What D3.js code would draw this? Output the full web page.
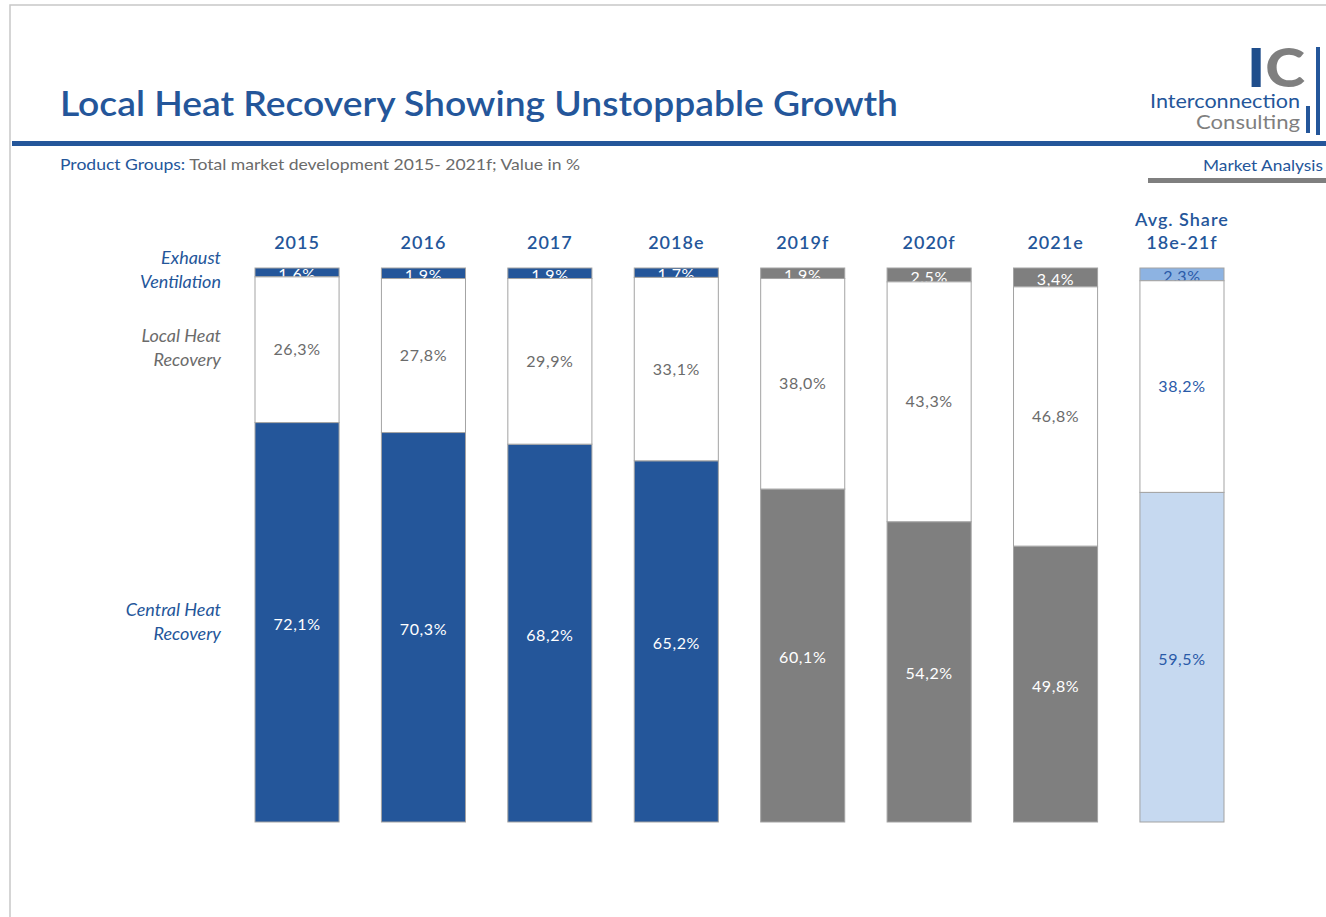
<!DOCTYPE html>
<html>
<head>
<meta charset="utf-8">
<script src="https://cdn.jsdelivr.net/npm/d3@7"></script>
<style>
  body { margin: 0; background: #fff; }
  text { font-family: Lato, "Open Sans", sans-serif; }
</style>
</head>
<body>
<div class="chart"></div>
<script>
// categories and values (shares in %)
var categories = ['2015', '2016', '2017', '2018e', '2019f', '2020f', '2021e', 'avg'];
var exhaust = [1.6, 1.9, 1.9, 1.7, 1.9, 2.5, 3.4, 2.3];
var localHR = [26.3, 27.8, 29.9, 33.1, 38.0, 43.3, 46.8, 38.2];
var centralHR = [72.1, 70.3, 68.2, 65.2, 60.1, 54.2, 49.8, 59.5];

var blue = '#24569a', grey = '#7f7f7f', lightBlue = '#c6d9f0', midBlue = '#8db3e2';
var textGrey = '#6b6b6b';

var svg = d3.select('.chart').append('svg')
  .attr('width', 1326)
  .attr('height', 917);

// frame
svg.append('path')
  .attr('d', 'M10,917 V5 H1326')
  .attr('fill', 'none')
  .attr('stroke', '#c8c8c8')
  .attr('stroke-width', 1.5);

// header
svg.append('text')
  .attr('x', 60).attr('y', 116)
  .attr('textLength', 838)
  .attr('lengthAdjust', 'spacingAndGlyphs')
  .style('font-size', '35px')
  .style('font-weight', 600)
  .style('fill', blue)
  .text('Local Heat Recovery Showing Unstoppable Growth');

svg.append('rect')
  .attr('x', 12).attr('y', 141).attr('width', 1314).attr('height', 5)
  .attr('fill', blue);

let sub = svg.append('text')
  .attr('x', 60).attr('y', 170)
  .attr('textLength', 520)
  .attr('lengthAdjust', 'spacingAndGlyphs')
  .style('font-size', '15px');
sub.append('tspan').style('fill', blue).text('Product Groups: ');
sub.append('tspan').style('fill', textGrey).text('Total market development 2015-  2021f; Value in %');

svg.append('text')
  .attr('x', 1323).attr('y', 171)
  .attr('textLength', 120)
  .attr('lengthAdjust', 'spacingAndGlyphs')
  .style('text-anchor', 'end')
  .style('font-size', '16px')
  .style('fill', blue)
  .text('Market Analysis');

svg.append('rect')
  .attr('x', 1148).attr('y', 178).attr('width', 178).attr('height', 5)
  .attr('fill', grey);

// logo
svg.append('text')
  .attr('x', 1247).attr('y', 87)
  .style('font-size', '54px')
  .style('font-weight', 900)
  .attr('textLength', 58)
  .attr('lengthAdjust', 'spacingAndGlyphs')
  .html('<tspan fill="#1f4e8c">I</tspan><tspan fill="#7f7f7f">C</tspan>');
svg.append('rect').attr('x', 1316).attr('y', 47).attr('width', 4).attr('height', 88).attr('fill', blue);
svg.append('rect').attr('x', 1306).attr('y', 106).attr('width', 4).attr('height', 27).attr('fill', blue);
svg.append('text')
  .attr('x', 1150).attr('y', 108)
  .attr('textLength', 150)
  .attr('lengthAdjust', 'spacingAndGlyphs')
  .style('font-size', '19px')
  .style('fill', blue)
  .text('Interconnection');
svg.append('text')
  .attr('x', 1196).attr('y', 129)
  .attr('textLength', 104)
  .attr('lengthAdjust', 'spacingAndGlyphs')
  .style('font-size', '20px')
  .style('fill', grey)
  .text('Consulting');

// scales
var x = d3.scaleBand()
  .domain(categories)
  .range([255, 1224])
  .paddingInner(0.335);

var y = d3.scaleLinear()
  .domain([0, 100])
  .range([822, 268]);

var pct = d3.formatLocale({ decimal: ',', thousands: '.', grouping: [3], currency: ['', '€'] }).format('.1f');

var rows = categories.map((c, i) => ({ cat: c, central: centralHR[i], local: localHR[i], exhaust: exhaust[i] }));
var stack = d3.stack().keys(['central', 'local', 'exhaust'])(rows);

function kind(cat) {
  if (cat === 'avg') return 'avg';
  return ['2019f', '2020f', '2021e'].indexOf(cat) >= 0 ? 'fc' : 'hist';
}
var fills = {
  central: { hist: blue, fc: grey, avg: lightBlue },
  local: { hist: '#fff', fc: '#fff', avg: '#fff' },
  exhaust: { hist: blue, fc: grey, avg: midBlue }
};
var labelFill = {
  central: { hist: '#fff', fc: '#fff', avg: '#2a5aa8' },
  local: { hist: textGrey, fc: textGrey, avg: '#2a5aa8' },
  exhaust: { hist: '#fff', fc: '#fff', avg: '#2a5aa8' }
};

function drawLayer(layer) {
  svg.append('g').attr('class', 'layer ' + layer.key)
    .selectAll('rect')
    .data(layer)
    .enter()
    .append('rect')
    .attr('x', d => x(d.data.cat))
    .attr('width', x.bandwidth())
    .attr('y', d => y(d[1]))
    .attr('height', d => y(d[0]) - y(d[1]))
    .attr('fill', d => fills[layer.key][kind(d.data.cat)])
    .attr('stroke', '#a3a3a3')
    .attr('stroke-width', 1);
}

function drawLabels(layer, dy) {
  svg.append('g').attr('class', 'labels ' + layer.key)
    .selectAll('text')
    .data(layer)
    .enter()
    .append('text')
    .attr('x', d => x(d.data.cat) + x.bandwidth() / 2)
    .attr('y', d => (y(d[0]) + y(d[1])) / 2 + dy)
    .attr('dy', '0.35em')
    .style('text-anchor', 'middle')
    .style('font-size', '16px')
    .style('letter-spacing', '0.6px')
    .style('fill', d => labelFill[layer.key][kind(d.data.cat)])
    .text(d => pct(d.data[layer.key]) + '%');
}

// exhaust labels sit under the white segment, like the original
drawLayer(stack[0]);
drawLayer(stack[2]);
drawLabels(stack[2], 2);
drawLayer(stack[1]);
drawLabels(stack[1], 0);
drawLabels(stack[0], 2);

// column headers
var headerText = { avg: ['Avg. Share', '18e-21f'] };
svg.append('g').selectAll('text')
  .data(categories)
  .enter()
  .append('text')
  .attr('x', d => x(d) + x.bandwidth() / 2)
  .attr('y', 249)
  .style('text-anchor', 'middle')
  .style('font-size', '18px')
  .style('font-weight', 600)
  .style('letter-spacing', '1px')
  .style('fill', blue)
  .each(function (d) {
    let lines = headerText[d] || [d];
    d3.select(this).selectAll('tspan')
      .data(lines)
      .enter()
      .append('tspan')
      .attr('x', x(d) + x.bandwidth() / 2)
      .attr('dy', (l, i) => i === 0 ? -(lines.length - 1) * 23 : 23)
      .text(l => l);
  });

// row labels
var rowLabels = [
  { key: 'exhaust', lines: ['Exhaust', 'Ventilation'], color: blue, y: 264 },
  { key: 'local', lines: ['Local Heat', 'Recovery'], color: textGrey, y: 342 },
  { key: 'central', lines: ['Central Heat', 'Recovery'], color: blue, y: 616 }
];
rowLabels.forEach(r => {
  let t = svg.append('text')
    .attr('x', 221).attr('y', r.y)
    .style('text-anchor', 'end')
    .style('font-size', '18px')
    .style('font-style', 'italic')
    .style('fill', r.color);
  r.lines.forEach((l, i) => {
    t.append('tspan').attr('x', 221).attr('dy', i === 0 ? 0 : 24).text(l);
  });
});
</script>
</body>
</html>
